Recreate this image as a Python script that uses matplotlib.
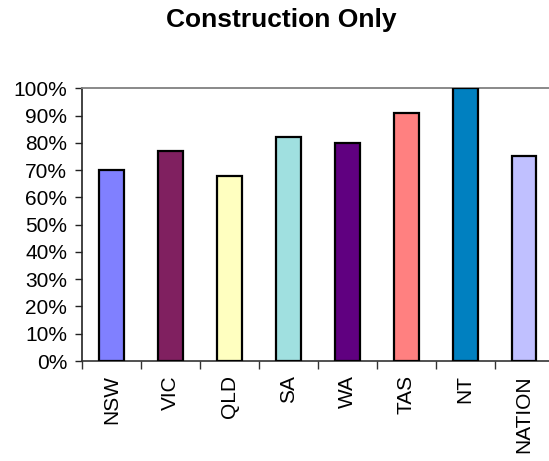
import matplotlib.pyplot as plt
from matplotlib.ticker import PercentFormatter

plt.rcParams['font.family'] = ['Liberation Sans', 'DejaVu Sans']

# Share of work by state, construction only
regions = ['NSW', 'VIC', 'QLD', 'SA', 'WA', 'TAS', 'NT', 'NATION']
shares = [70, 77, 68, 82, 80, 91, 100, 75]
bar_colors = ['#8080FF', '#802060', '#FFFFC0', '#A0E0E0',
              '#600080', '#FF8080', '#0080C0', '#C0C0FF']

fig = plt.figure(figsize=(5.49, 4.61), dpi=100)
ax = fig.add_axes([82.3 / 549, 100 / 461, 471.2 / 549, 272.7 / 461])

x = range(len(regions))
ax.bar(x, shares, width=0.42, color=bar_colors, edgecolor='black',
       linewidth=1.6, zorder=3)

ax.set_xlim(-0.5, len(regions) - 0.5)
ax.set_ylim(0, 100)
ax.set_yticks(range(0, 101, 10))
ax.yaxis.set_major_formatter(PercentFormatter(decimals=0))

# category labels sit between separator ticks
ax.set_xticks([i for i in x])
ax.set_xticklabels(regions, rotation=90, fontsize=15)
ax.tick_params(axis='x', length=0, pad=10)
ax.set_xticks([i - 0.5 for i in range(len(regions) + 1)], minor=True)
ax.tick_params(axis='x', which='minor', length=6, width=1, color='#333333')
ax.tick_params(axis='y', length=5, width=1, color='#222222', labelsize=15, pad=6)

ax.spines['right'].set_visible(False)
ax.spines['top'].set_color('#808080')
ax.spines['top'].set_linewidth(1.3)
ax.spines['left'].set_color('#222222')
ax.spines['bottom'].set_color('#333333')
ax.spines['left'].set_linewidth(1.2)
ax.spines['bottom'].set_linewidth(1.2)

fig.text(281 / 549, 1 - 20 / 461, 'Construction Only', ha='center', va='center',
         fontsize=19, fontweight='bold')

fig.savefig('out.png', dpi=100)
